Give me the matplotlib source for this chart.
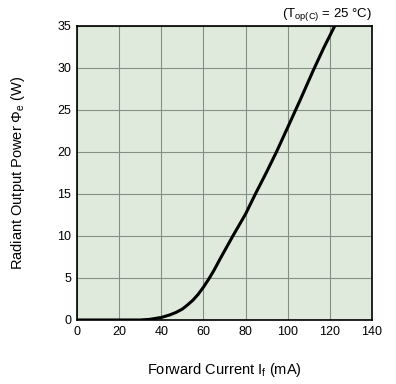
import numpy as np
import matplotlib
matplotlib.use('Agg')
import matplotlib.pyplot as plt

plt.rcParams['font.family'] = ['Liberation Sans', 'DejaVu Sans']
plt.rcParams['mathtext.fontset'] = 'custom'
plt.rcParams['mathtext.rm'] = 'Liberation Sans'
plt.rcParams['mathtext.it'] = 'Liberation Sans'

# 读取曲线数据 (mA, W)
current_ma = [0, 20, 30, 34.6, 40, 44, 47, 50, 52.5, 55, 57.5, 60, 62.5, 65,
              68, 71, 74, 80, 84.5, 90, 94.7, 100, 106, 112, 117, 122.4]
power_w = [0, 0, 0, 0.08, 0.3, 0.6, 0.9, 1.3, 1.8, 2.35, 3.05, 3.9, 4.85, 5.9,
           7.3, 8.65, 10.0, 12.6, 14.9, 17.6, 20.0, 22.9, 26.2, 29.6, 32.3, 35.0]

x_ticks = [0, 20, 40, 60, 80, 100, 120, 140]
y_ticks = [0, 5, 10, 15, 20, 25, 30, 35]

fig = plt.figure(figsize=(3.96, 3.84), dpi=100)
ax = fig.add_axes([0.1944, 0.1667, 0.745, 0.7667])
ax.set_facecolor('#dfeadc')

ax.plot(current_ma, power_w, color='black', linewidth=2.2,
        solid_joinstyle='round')

ax.set_xlim(0, 140)
ax.set_ylim(0, 35)
ax.set_xticks(x_ticks)
ax.set_yticks(y_ticks)
ax.tick_params(length=0, labelsize=9, pad=4)
ax.grid(True, color='#839083', linewidth=0.8)
for s in ax.spines.values():
    s.set_color('black')
    s.set_linewidth(1.2)

ax.set_xlabel(r'Forward Current I$_{\mathrm{f}}$ (mA)', fontsize=10.5, labelpad=17)
ax.set_ylabel(r'Radiant Output Power $\Phi_{\mathrm{e}}$ (W)', fontsize=10.5, labelpad=22)
ax.text(1.0, 1.01, r'(T$_{\mathrm{op(C)}}$ = 25 °C)', transform=ax.transAxes,
        ha='right', va='bottom', fontsize=9.5)

fig.savefig('out.png', dpi=100, facecolor='white')
plt.close()
